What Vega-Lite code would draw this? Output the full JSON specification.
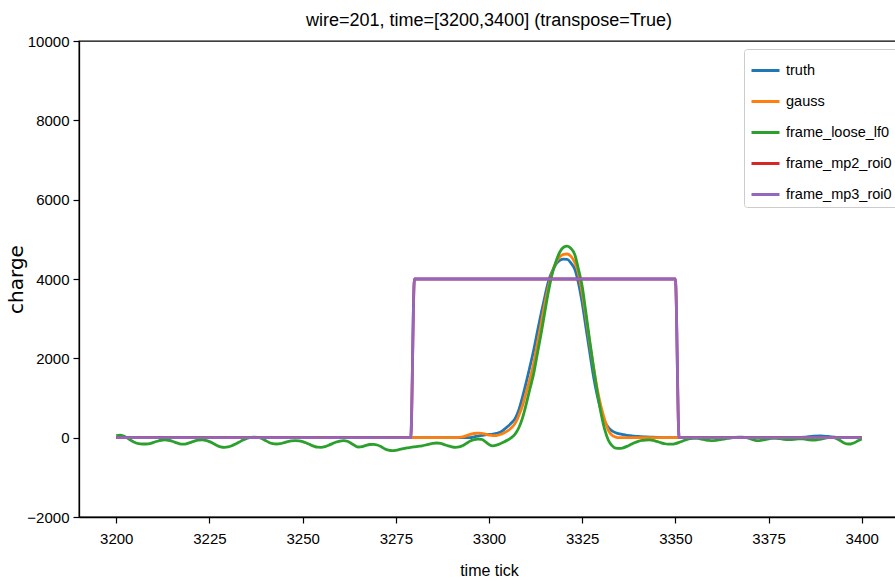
{
  "$schema": "https://vega.github.io/schema/vega-lite/v6.json",
  "width": 820,
  "height": 476,
  "autosize": {"type": "none"},
  "padding": {"left": 79, "top": 41, "right": 0, "bottom": 65},
  "background": "white",
  "title": {
    "text": "wire=201, time=[3200,3400] (transpose=True)",
    "font": "Liberation Sans",
    "fontSize": 18,
    "fontWeight": "normal",
    "color": "#000",
    "anchor": "middle",
    "offset": 4
  },
  "config": {
    "view": {"stroke": "#000", "strokeWidth": 1.3},
    "axis": {
      "grid": false,
      "domainColor": "#000",
      "domainWidth": 1.3,
      "tickColor": "#000",
      "tickWidth": 1.2,
      "tickSize": 6,
      "labelColor": "#000",
      "labelFont": "Liberation Sans",
      "labelFontSize": 15,
      "titleColor": "#000",
      "titleFontWeight": "normal"
    }
  },
  "data": {
    "values": [
      {"s": "truth", "t": 3200, "v": 0}, {"s": "truth", "t": 3250, "v": 0}, {"s": "truth", "t": 3290, "v": 0}, {"s": "truth", "t": 3295, "v": 0},
      {"s": "truth", "t": 3296, "v": 20}, {"s": "truth", "t": 3297, "v": 40}, {"s": "truth", "t": 3298, "v": 60}, {"s": "truth", "t": 3299, "v": 70},
      {"s": "truth", "t": 3300, "v": 80}, {"s": "truth", "t": 3301, "v": 90}, {"s": "truth", "t": 3302, "v": 110}, {"s": "truth", "t": 3303, "v": 135},
      {"s": "truth", "t": 3304, "v": 200}, {"s": "truth", "t": 3305, "v": 280}, {"s": "truth", "t": 3306, "v": 370}, {"s": "truth", "t": 3307, "v": 480},
      {"s": "truth", "t": 3308, "v": 700}, {"s": "truth", "t": 3309, "v": 1030}, {"s": "truth", "t": 3310, "v": 1400}, {"s": "truth", "t": 3311, "v": 1800},
      {"s": "truth", "t": 3312, "v": 2210}, {"s": "truth", "t": 3313, "v": 2680}, {"s": "truth", "t": 3314, "v": 3134}, {"s": "truth", "t": 3315, "v": 3560},
      {"s": "truth", "t": 3316, "v": 3960}, {"s": "truth", "t": 3317, "v": 4200}, {"s": "truth", "t": 3318, "v": 4380}, {"s": "truth", "t": 3319, "v": 4470},
      {"s": "truth", "t": 3320, "v": 4500}, {"s": "truth", "t": 3321, "v": 4495}, {"s": "truth", "t": 3322, "v": 4400}, {"s": "truth", "t": 3323, "v": 4250},
      {"s": "truth", "t": 3324, "v": 3900}, {"s": "truth", "t": 3325, "v": 3400}, {"s": "truth", "t": 3326, "v": 2780}, {"s": "truth", "t": 3327, "v": 2170},
      {"s": "truth", "t": 3328, "v": 1570}, {"s": "truth", "t": 3329, "v": 1080}, {"s": "truth", "t": 3330, "v": 700}, {"s": "truth", "t": 3331, "v": 420},
      {"s": "truth", "t": 3332, "v": 260}, {"s": "truth", "t": 3333, "v": 170}, {"s": "truth", "t": 3334, "v": 125}, {"s": "truth", "t": 3335, "v": 95},
      {"s": "truth", "t": 3336, "v": 75}, {"s": "truth", "t": 3337, "v": 60}, {"s": "truth", "t": 3338, "v": 50}, {"s": "truth", "t": 3339, "v": 40},
      {"s": "truth", "t": 3340, "v": 32}, {"s": "truth", "t": 3342, "v": 20}, {"s": "truth", "t": 3344, "v": 10}, {"s": "truth", "t": 3347, "v": 3},
      {"s": "truth", "t": 3350, "v": 0}, {"s": "truth", "t": 3383, "v": 0}, {"s": "truth", "t": 3385, "v": 15}, {"s": "truth", "t": 3387, "v": 40},
      {"s": "truth", "t": 3389, "v": 45}, {"s": "truth", "t": 3391, "v": 30}, {"s": "truth", "t": 3393, "v": 10}, {"s": "truth", "t": 3395, "v": 0},
      {"s": "truth", "t": 3400, "v": 0},

      {"s": "gauss", "t": 3200, "v": 0}, {"s": "gauss", "t": 3250, "v": 0}, {"s": "gauss", "t": 3291, "v": 0}, {"s": "gauss", "t": 3292, "v": 5},
      {"s": "gauss", "t": 3293, "v": 20}, {"s": "gauss", "t": 3294, "v": 50}, {"s": "gauss", "t": 3295, "v": 85}, {"s": "gauss", "t": 3296, "v": 105},
      {"s": "gauss", "t": 3297, "v": 115}, {"s": "gauss", "t": 3298, "v": 110}, {"s": "gauss", "t": 3299, "v": 90}, {"s": "gauss", "t": 3300, "v": 65},
      {"s": "gauss", "t": 3301, "v": 50}, {"s": "gauss", "t": 3302, "v": 55}, {"s": "gauss", "t": 3303, "v": 80}, {"s": "gauss", "t": 3304, "v": 120},
      {"s": "gauss", "t": 3305, "v": 170}, {"s": "gauss", "t": 3306, "v": 250}, {"s": "gauss", "t": 3307, "v": 360}, {"s": "gauss", "t": 3308, "v": 560},
      {"s": "gauss", "t": 3309, "v": 810}, {"s": "gauss", "t": 3310, "v": 1150}, {"s": "gauss", "t": 3311, "v": 1480}, {"s": "gauss", "t": 3312, "v": 1880},
      {"s": "gauss", "t": 3313, "v": 2380}, {"s": "gauss", "t": 3314, "v": 2880}, {"s": "gauss", "t": 3315, "v": 3380}, {"s": "gauss", "t": 3316, "v": 3820},
      {"s": "gauss", "t": 3317, "v": 4180}, {"s": "gauss", "t": 3318, "v": 4420}, {"s": "gauss", "t": 3319, "v": 4560}, {"s": "gauss", "t": 3320, "v": 4620},
      {"s": "gauss", "t": 3321, "v": 4630}, {"s": "gauss", "t": 3322, "v": 4570}, {"s": "gauss", "t": 3323, "v": 4420}, {"s": "gauss", "t": 3324, "v": 4150},
      {"s": "gauss", "t": 3325, "v": 3650}, {"s": "gauss", "t": 3326, "v": 3050}, {"s": "gauss", "t": 3327, "v": 2400}, {"s": "gauss", "t": 3328, "v": 1800},
      {"s": "gauss", "t": 3329, "v": 1250}, {"s": "gauss", "t": 3330, "v": 800}, {"s": "gauss", "t": 3331, "v": 460}, {"s": "gauss", "t": 3332, "v": 190},
      {"s": "gauss", "t": 3333, "v": 60}, {"s": "gauss", "t": 3334, "v": 15}, {"s": "gauss", "t": 3335, "v": 0}, {"s": "gauss", "t": 3400, "v": 0},

      {"s": "frame_loose_lf0", "t": 3200, "v": 50}, {"s": "frame_loose_lf0", "t": 3201, "v": 65}, {"s": "frame_loose_lf0", "t": 3202, "v": 40}, {"s": "frame_loose_lf0", "t": 3203, "v": -10},
      {"s": "frame_loose_lf0", "t": 3204, "v": -70}, {"s": "frame_loose_lf0", "t": 3205, "v": -120}, {"s": "frame_loose_lf0", "t": 3206, "v": -150}, {"s": "frame_loose_lf0", "t": 3207, "v": -160},
      {"s": "frame_loose_lf0", "t": 3208, "v": -160}, {"s": "frame_loose_lf0", "t": 3209, "v": -150}, {"s": "frame_loose_lf0", "t": 3210, "v": -120}, {"s": "frame_loose_lf0", "t": 3211, "v": -90},
      {"s": "frame_loose_lf0", "t": 3212, "v": -65}, {"s": "frame_loose_lf0", "t": 3213, "v": -58}, {"s": "frame_loose_lf0", "t": 3214, "v": -65}, {"s": "frame_loose_lf0", "t": 3215, "v": -90},
      {"s": "frame_loose_lf0", "t": 3216, "v": -125}, {"s": "frame_loose_lf0", "t": 3217, "v": -155}, {"s": "frame_loose_lf0", "t": 3218, "v": -165}, {"s": "frame_loose_lf0", "t": 3219, "v": -150},
      {"s": "frame_loose_lf0", "t": 3220, "v": -120}, {"s": "frame_loose_lf0", "t": 3221, "v": -85}, {"s": "frame_loose_lf0", "t": 3222, "v": -62}, {"s": "frame_loose_lf0", "t": 3223, "v": -58},
      {"s": "frame_loose_lf0", "t": 3224, "v": -70}, {"s": "frame_loose_lf0", "t": 3225, "v": -100}, {"s": "frame_loose_lf0", "t": 3226, "v": -145}, {"s": "frame_loose_lf0", "t": 3227, "v": -195},
      {"s": "frame_loose_lf0", "t": 3228, "v": -230}, {"s": "frame_loose_lf0", "t": 3229, "v": -243}, {"s": "frame_loose_lf0", "t": 3230, "v": -235}, {"s": "frame_loose_lf0", "t": 3231, "v": -205},
      {"s": "frame_loose_lf0", "t": 3232, "v": -160}, {"s": "frame_loose_lf0", "t": 3233, "v": -110}, {"s": "frame_loose_lf0", "t": 3234, "v": -60}, {"s": "frame_loose_lf0", "t": 3235, "v": -20},
      {"s": "frame_loose_lf0", "t": 3236, "v": 5}, {"s": "frame_loose_lf0", "t": 3237, "v": 15}, {"s": "frame_loose_lf0", "t": 3238, "v": 10}, {"s": "frame_loose_lf0", "t": 3239, "v": -20},
      {"s": "frame_loose_lf0", "t": 3240, "v": -70}, {"s": "frame_loose_lf0", "t": 3241, "v": -120}, {"s": "frame_loose_lf0", "t": 3242, "v": -150}, {"s": "frame_loose_lf0", "t": 3243, "v": -160},
      {"s": "frame_loose_lf0", "t": 3244, "v": -150}, {"s": "frame_loose_lf0", "t": 3245, "v": -125}, {"s": "frame_loose_lf0", "t": 3246, "v": -100}, {"s": "frame_loose_lf0", "t": 3247, "v": -82},
      {"s": "frame_loose_lf0", "t": 3248, "v": -75}, {"s": "frame_loose_lf0", "t": 3249, "v": -80}, {"s": "frame_loose_lf0", "t": 3250, "v": -100}, {"s": "frame_loose_lf0", "t": 3251, "v": -135},
      {"s": "frame_loose_lf0", "t": 3252, "v": -175}, {"s": "frame_loose_lf0", "t": 3253, "v": -215}, {"s": "frame_loose_lf0", "t": 3254, "v": -240}, {"s": "frame_loose_lf0", "t": 3255, "v": -243},
      {"s": "frame_loose_lf0", "t": 3256, "v": -225}, {"s": "frame_loose_lf0", "t": 3257, "v": -190}, {"s": "frame_loose_lf0", "t": 3258, "v": -150}, {"s": "frame_loose_lf0", "t": 3259, "v": -110},
      {"s": "frame_loose_lf0", "t": 3260, "v": -85}, {"s": "frame_loose_lf0", "t": 3261, "v": -75}, {"s": "frame_loose_lf0", "t": 3262, "v": -90}, {"s": "frame_loose_lf0", "t": 3263, "v": -140},
      {"s": "frame_loose_lf0", "t": 3264, "v": -200}, {"s": "frame_loose_lf0", "t": 3265, "v": -235}, {"s": "frame_loose_lf0", "t": 3266, "v": -225}, {"s": "frame_loose_lf0", "t": 3267, "v": -195},
      {"s": "frame_loose_lf0", "t": 3268, "v": -172}, {"s": "frame_loose_lf0", "t": 3269, "v": -168}, {"s": "frame_loose_lf0", "t": 3270, "v": -185}, {"s": "frame_loose_lf0", "t": 3271, "v": -225},
      {"s": "frame_loose_lf0", "t": 3272, "v": -280}, {"s": "frame_loose_lf0", "t": 3273, "v": -315}, {"s": "frame_loose_lf0", "t": 3274, "v": -327}, {"s": "frame_loose_lf0", "t": 3275, "v": -318},
      {"s": "frame_loose_lf0", "t": 3276, "v": -298}, {"s": "frame_loose_lf0", "t": 3277, "v": -278}, {"s": "frame_loose_lf0", "t": 3278, "v": -260}, {"s": "frame_loose_lf0", "t": 3279, "v": -243},
      {"s": "frame_loose_lf0", "t": 3280, "v": -230}, {"s": "frame_loose_lf0", "t": 3281, "v": -218}, {"s": "frame_loose_lf0", "t": 3282, "v": -205}, {"s": "frame_loose_lf0", "t": 3283, "v": -185},
      {"s": "frame_loose_lf0", "t": 3284, "v": -160}, {"s": "frame_loose_lf0", "t": 3285, "v": -142}, {"s": "frame_loose_lf0", "t": 3286, "v": -135}, {"s": "frame_loose_lf0", "t": 3287, "v": -145},
      {"s": "frame_loose_lf0", "t": 3288, "v": -175}, {"s": "frame_loose_lf0", "t": 3289, "v": -205}, {"s": "frame_loose_lf0", "t": 3290, "v": -230}, {"s": "frame_loose_lf0", "t": 3291, "v": -243},
      {"s": "frame_loose_lf0", "t": 3292, "v": -235}, {"s": "frame_loose_lf0", "t": 3293, "v": -200}, {"s": "frame_loose_lf0", "t": 3294, "v": -140}, {"s": "frame_loose_lf0", "t": 3295, "v": -85},
      {"s": "frame_loose_lf0", "t": 3296, "v": -50}, {"s": "frame_loose_lf0", "t": 3297, "v": -38}, {"s": "frame_loose_lf0", "t": 3298, "v": -45}, {"s": "frame_loose_lf0", "t": 3299, "v": -100},
      {"s": "frame_loose_lf0", "t": 3300, "v": -170}, {"s": "frame_loose_lf0", "t": 3301, "v": -205}, {"s": "frame_loose_lf0", "t": 3302, "v": -190}, {"s": "frame_loose_lf0", "t": 3303, "v": -155},
      {"s": "frame_loose_lf0", "t": 3304, "v": -110}, {"s": "frame_loose_lf0", "t": 3305, "v": -60}, {"s": "frame_loose_lf0", "t": 3306, "v": 0}, {"s": "frame_loose_lf0", "t": 3307, "v": 90},
      {"s": "frame_loose_lf0", "t": 3308, "v": 250}, {"s": "frame_loose_lf0", "t": 3309, "v": 500}, {"s": "frame_loose_lf0", "t": 3310, "v": 850}, {"s": "frame_loose_lf0", "t": 3311, "v": 1240},
      {"s": "frame_loose_lf0", "t": 3312, "v": 1620}, {"s": "frame_loose_lf0", "t": 3313, "v": 2130}, {"s": "frame_loose_lf0", "t": 3314, "v": 2630}, {"s": "frame_loose_lf0", "t": 3315, "v": 3180},
      {"s": "frame_loose_lf0", "t": 3316, "v": 3710}, {"s": "frame_loose_lf0", "t": 3317, "v": 4150}, {"s": "frame_loose_lf0", "t": 3318, "v": 4450}, {"s": "frame_loose_lf0", "t": 3319, "v": 4680},
      {"s": "frame_loose_lf0", "t": 3320, "v": 4800}, {"s": "frame_loose_lf0", "t": 3321, "v": 4830}, {"s": "frame_loose_lf0", "t": 3322, "v": 4770}, {"s": "frame_loose_lf0", "t": 3323, "v": 4620},
      {"s": "frame_loose_lf0", "t": 3324, "v": 4250}, {"s": "frame_loose_lf0", "t": 3325, "v": 3820}, {"s": "frame_loose_lf0", "t": 3326, "v": 3150}, {"s": "frame_loose_lf0", "t": 3327, "v": 2460},
      {"s": "frame_loose_lf0", "t": 3328, "v": 1800}, {"s": "frame_loose_lf0", "t": 3329, "v": 1180}, {"s": "frame_loose_lf0", "t": 3330, "v": 640}, {"s": "frame_loose_lf0", "t": 3331, "v": 220},
      {"s": "frame_loose_lf0", "t": 3332, "v": -60}, {"s": "frame_loose_lf0", "t": 3333, "v": -200}, {"s": "frame_loose_lf0", "t": 3334, "v": -265}, {"s": "frame_loose_lf0", "t": 3335, "v": -270},
      {"s": "frame_loose_lf0", "t": 3336, "v": -255}, {"s": "frame_loose_lf0", "t": 3337, "v": -220}, {"s": "frame_loose_lf0", "t": 3338, "v": -175}, {"s": "frame_loose_lf0", "t": 3339, "v": -130},
      {"s": "frame_loose_lf0", "t": 3340, "v": -95}, {"s": "frame_loose_lf0", "t": 3341, "v": -70}, {"s": "frame_loose_lf0", "t": 3342, "v": -60}, {"s": "frame_loose_lf0", "t": 3343, "v": -58},
      {"s": "frame_loose_lf0", "t": 3344, "v": -70}, {"s": "frame_loose_lf0", "t": 3345, "v": -95}, {"s": "frame_loose_lf0", "t": 3346, "v": -125}, {"s": "frame_loose_lf0", "t": 3347, "v": -150},
      {"s": "frame_loose_lf0", "t": 3348, "v": -165}, {"s": "frame_loose_lf0", "t": 3349, "v": -165}, {"s": "frame_loose_lf0", "t": 3350, "v": -150}, {"s": "frame_loose_lf0", "t": 3351, "v": -120},
      {"s": "frame_loose_lf0", "t": 3352, "v": -85}, {"s": "frame_loose_lf0", "t": 3353, "v": -50}, {"s": "frame_loose_lf0", "t": 3354, "v": -25}, {"s": "frame_loose_lf0", "t": 3355, "v": -15},
      {"s": "frame_loose_lf0", "t": 3356, "v": -20}, {"s": "frame_loose_lf0", "t": 3357, "v": -35}, {"s": "frame_loose_lf0", "t": 3358, "v": -55}, {"s": "frame_loose_lf0", "t": 3359, "v": -70},
      {"s": "frame_loose_lf0", "t": 3360, "v": -75}, {"s": "frame_loose_lf0", "t": 3361, "v": -65}, {"s": "frame_loose_lf0", "t": 3362, "v": -50}, {"s": "frame_loose_lf0", "t": 3363, "v": -35},
      {"s": "frame_loose_lf0", "t": 3364, "v": -20}, {"s": "frame_loose_lf0", "t": 3365, "v": -5}, {"s": "frame_loose_lf0", "t": 3366, "v": 5}, {"s": "frame_loose_lf0", "t": 3367, "v": 10},
      {"s": "frame_loose_lf0", "t": 3368, "v": 10}, {"s": "frame_loose_lf0", "t": 3369, "v": 0}, {"s": "frame_loose_lf0", "t": 3370, "v": -25}, {"s": "frame_loose_lf0", "t": 3371, "v": -55},
      {"s": "frame_loose_lf0", "t": 3372, "v": -75}, {"s": "frame_loose_lf0", "t": 3373, "v": -70}, {"s": "frame_loose_lf0", "t": 3374, "v": -50}, {"s": "frame_loose_lf0", "t": 3375, "v": -30},
      {"s": "frame_loose_lf0", "t": 3376, "v": -15}, {"s": "frame_loose_lf0", "t": 3377, "v": -15}, {"s": "frame_loose_lf0", "t": 3378, "v": -25}, {"s": "frame_loose_lf0", "t": 3379, "v": -40},
      {"s": "frame_loose_lf0", "t": 3380, "v": -50}, {"s": "frame_loose_lf0", "t": 3381, "v": -50}, {"s": "frame_loose_lf0", "t": 3382, "v": -40}, {"s": "frame_loose_lf0", "t": 3383, "v": -30},
      {"s": "frame_loose_lf0", "t": 3384, "v": -30}, {"s": "frame_loose_lf0", "t": 3385, "v": -40}, {"s": "frame_loose_lf0", "t": 3386, "v": -55}, {"s": "frame_loose_lf0", "t": 3387, "v": -60},
      {"s": "frame_loose_lf0", "t": 3388, "v": -55}, {"s": "frame_loose_lf0", "t": 3389, "v": -35}, {"s": "frame_loose_lf0", "t": 3390, "v": -15}, {"s": "frame_loose_lf0", "t": 3391, "v": 0},
      {"s": "frame_loose_lf0", "t": 3392, "v": 5}, {"s": "frame_loose_lf0", "t": 3393, "v": -15}, {"s": "frame_loose_lf0", "t": 3394, "v": -60}, {"s": "frame_loose_lf0", "t": 3395, "v": -120},
      {"s": "frame_loose_lf0", "t": 3396, "v": -155}, {"s": "frame_loose_lf0", "t": 3397, "v": -160}, {"s": "frame_loose_lf0", "t": 3398, "v": -130}, {"s": "frame_loose_lf0", "t": 3399, "v": -80},
      {"s": "frame_loose_lf0", "t": 3400, "v": -35},

      {"s": "frame_mp2_roi0", "t": 3200, "v": 0}, {"s": "frame_mp2_roi0", "t": 3279, "v": 0}, {"s": "frame_mp2_roi0", "t": 3280, "v": 4000},
      {"s": "frame_mp2_roi0", "t": 3350, "v": 4000}, {"s": "frame_mp2_roi0", "t": 3351, "v": 0}, {"s": "frame_mp2_roi0", "t": 3400, "v": 0},

      {"s": "frame_mp3_roi0", "t": 3200, "v": 0}, {"s": "frame_mp3_roi0", "t": 3279, "v": 0}, {"s": "frame_mp3_roi0", "t": 3280, "v": 4000},
      {"s": "frame_mp3_roi0", "t": 3350, "v": 4000}, {"s": "frame_mp3_roi0", "t": 3351, "v": 0}, {"s": "frame_mp3_roi0", "t": 3400, "v": 0}
    ]
  },
  "encoding": {
    "x": {
      "field": "t",
      "type": "quantitative",
      "scale": {"domain": [3190, 3410], "nice": false, "zero": false},
      "axis": {
        "title": "time tick",
        "titleFont": "Liberation Sans",
        "titleFontSize": 16,
        "labelPadding": 8,
        "titlePadding": 16,
        "values": [3200, 3225, 3250, 3275, 3300, 3325, 3350, 3375, 3400],
        "format": "d"
      }
    },
    "y": {
      "field": "v",
      "type": "quantitative",
      "scale": {"domain": [-2000, 10000], "nice": false},
      "axis": {
        "title": "charge",
        "titleFont": "DejaVu Sans",
        "titleFontSize": 20,
        "labelPadding": 4,
        "titlePadding": 0,
        "values": [-2000, 0, 2000, 4000, 6000, 8000, 10000],
        "format": "d"
      }
    },
    "color": {
      "field": "s",
      "type": "nominal",
      "scale": {
        "domain": ["truth", "gauss", "frame_loose_lf0", "frame_mp2_roi0", "frame_mp3_roi0"],
        "range": ["#1f77b4", "#ff7f0e", "#2ca02c", "#d62728", "#9467bd"]
      },
      "legend": {
        "title": null,
        "orient": "none",
        "legendX": 665,
        "legendY": 8,
        "symbolType": "stroke",
        "symbolSize": 784,
        "symbolStrokeWidth": 3,
        "labelFont": "Liberation Sans",
        "labelFontSize": 14.5,
        "labelColor": "#000",
        "labelOffset": 5,
        "rowPadding": 9,
        "padding": 6,
        "strokeColor": "#cccccc",
        "fillColor": "#ffffff",
        "cornerRadius": 3
      }
    }
  },
  "layer": [
    {"transform": [{"filter": "datum.s === 'truth'"}], "mark": {"type": "line", "strokeWidth": 2.8, "interpolate": "monotone"}},
    {"transform": [{"filter": "datum.s === 'gauss'"}], "mark": {"type": "line", "strokeWidth": 2.8, "interpolate": "monotone"}},
    {"transform": [{"filter": "datum.s === 'frame_loose_lf0'"}], "mark": {"type": "line", "strokeWidth": 2.8, "interpolate": "monotone"}},
    {"transform": [{"filter": "datum.s === 'frame_mp2_roi0'"}], "mark": {"type": "line", "strokeWidth": 2.8, "interpolate": "monotone"}},
    {"transform": [{"filter": "datum.s === 'frame_mp3_roi0'"}], "mark": {"type": "line", "strokeWidth": 2.8, "interpolate": "monotone"}}
  ]
}
